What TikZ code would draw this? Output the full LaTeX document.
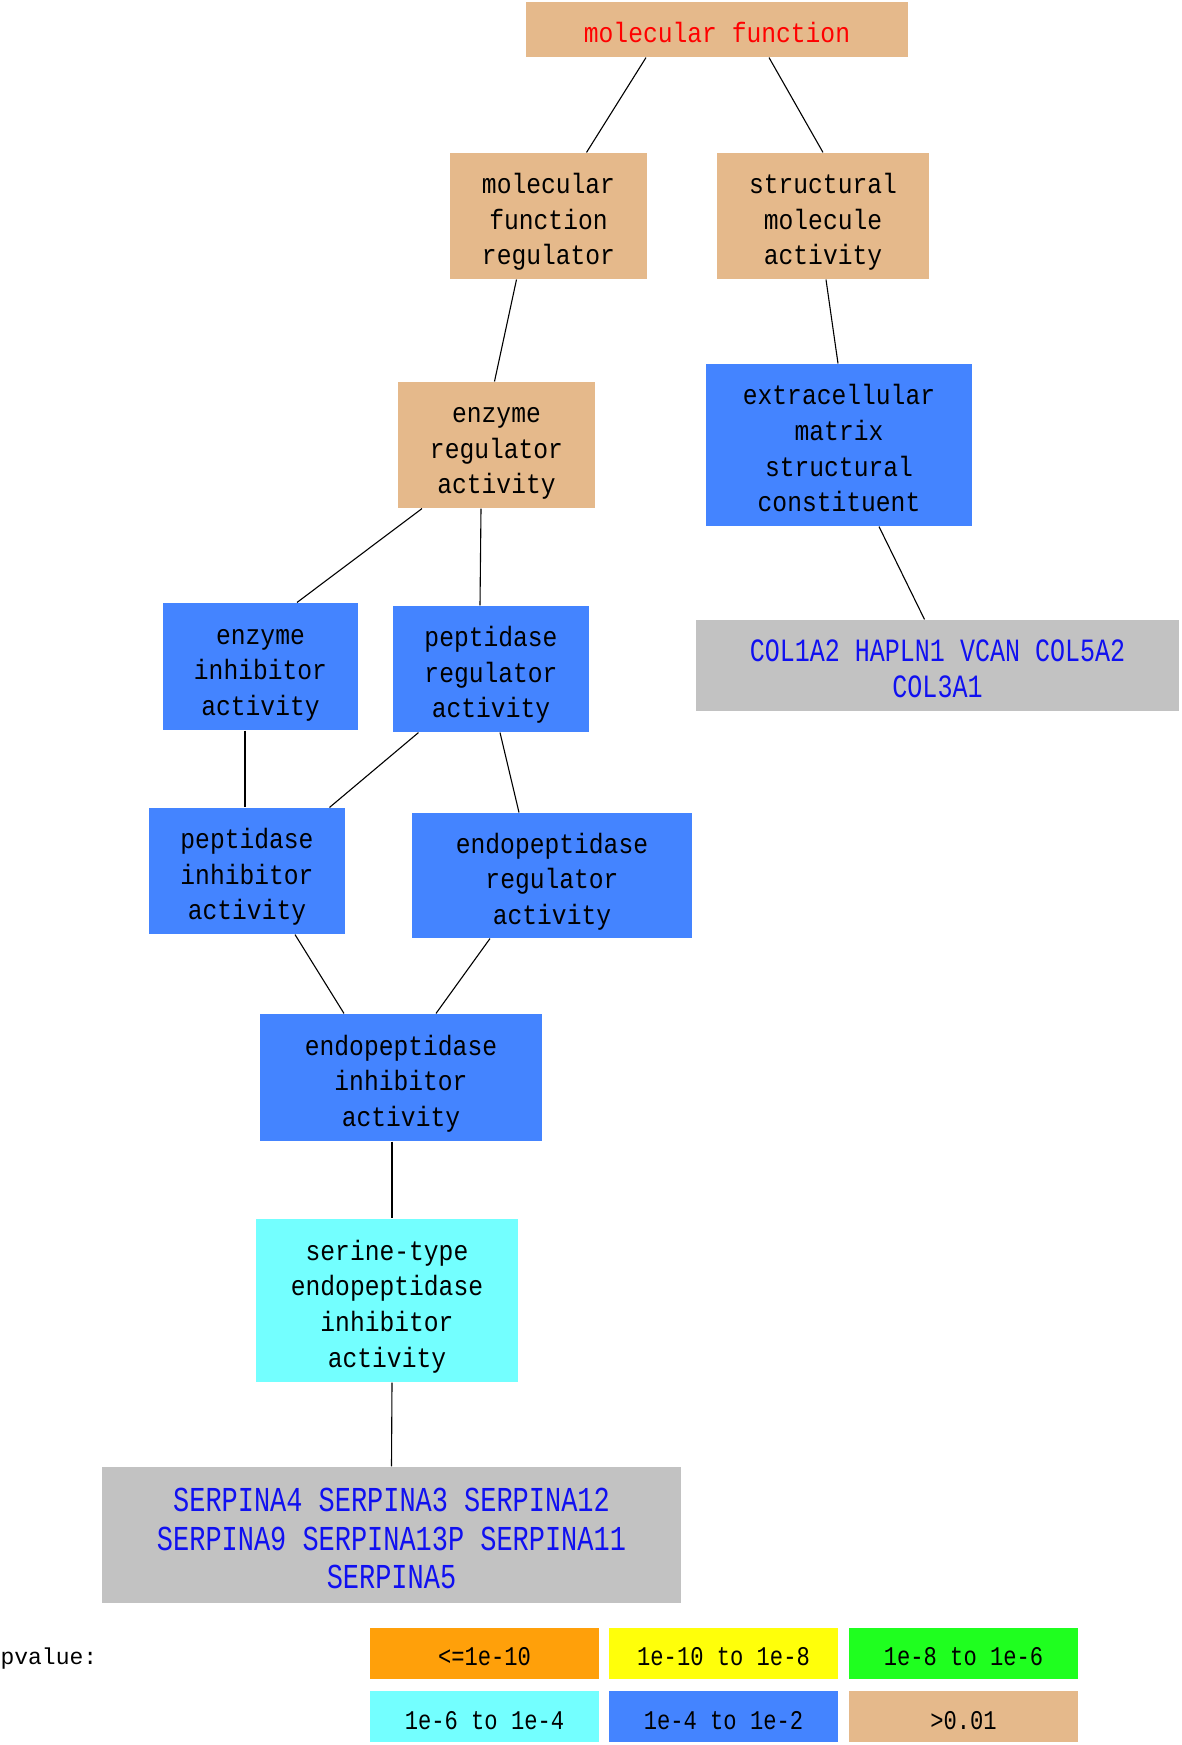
\documentclass[tikz,border=0pt]{standalone}
\usepackage{fontspec}
\newfontfamily\labfont[FakeStretch=0.88]{Liberation Mono}
\newfontfamily\genfont[FakeStretch=0.77]{Liberation Mono}
\newfontfamily\keyfont[FakeStretch=0.82]{Liberation Mono}
\newfontfamily\pvfont{Liberation Mono}
\usepackage{xcolor}
\definecolor{Tan}{HTML}{E5B98B}
\definecolor{Blu}{HTML}{4484FF}
\definecolor{Cyn}{HTML}{73FFFF}
\definecolor{Gry}{HTML}{C2C2C2}
\definecolor{GeneBlue}{HTML}{1010F0}
\definecolor{Org}{HTML}{FFA00A}
\definecolor{Yel}{HTML}{FFFF0A}
\definecolor{Grn}{HTML}{1FFF1F}
\usepackage{tikz}
\usetikzlibrary{positioning}

\begin{document}
\begin{tikzpicture}[x=1pt,y=-1pt,line width=1.1pt,
 box/.style={rectangle,inner sep=0pt,align=center,font=\labfont\fontsize{28}{35.6}\selectfont,
  text height=34pt,text depth=7.5pt},
 l3/.style={text height=105.2pt},
 l4/.style={text height=140.8pt},
 tan/.style={box,fill=Tan},
 blu/.style={box,fill=Blu},
 cyn/.style={box,fill=Cyn},
 gene/.style 2 args={rectangle,inner sep=0pt,align=center,fill=Gry,text=GeneBlue,
  font=\genfont\fontsize{#1}{#2}\selectfont,text depth=2pt},
 key/.style={rectangle,inner sep=0pt,minimum width=229,minimum height=51,font=\keyfont\fontsize{27}{30}\selectfont,
  text height=25pt,text depth=0pt}]
\useasboundingbox (0,0) rectangle (1181,1745);
% GO terms
\node[tan,minimum width=382,minimum height=55,text=red] (mf) at (717,29.5) {molecular function};
\node[tan,l3,minimum width=197,minimum height=126] (mfr) at (548.5,216) {molecular\\function\\regulator};
\node[tan,l3,minimum width=212,minimum height=126] (sma) at (823,216) {structural\\molecule\\activity};
\node[tan,l3,minimum width=197,minimum height=126] (era) at (496.5,445) {enzyme\\regulator\\activity};
\node[blu,l4,minimum width=266,minimum height=162] (ecm) at (839,445) {extracellular\\matrix\\structural\\constituent};
\node[blu,l3,minimum width=195,minimum height=127] (eia) at (260.5,666.5) {enzyme\\inhibitor\\activity};
\node[blu,l3,minimum width=196,minimum height=126] (pra) at (491,669) {peptidase\\regulator\\activity};
\node[blu,l3,minimum width=196,minimum height=126] (pia) at (247,871) {peptidase\\inhibitor\\activity};
\node[blu,l3,minimum width=280,minimum height=125] (epra) at (552,875.5) {endopeptidase\\regulator\\activity};
\node[blu,l3,minimum width=282,minimum height=127] (epia) at (401,1077.5) {endopeptidase\\inhibitor\\activity};
\node[cyn,l4,minimum width=262,minimum height=163] (sepia) at (387,1300.5) {serine-type\\endopeptidase\\inhibitor\\activity};
% genes
\node[gene={32.5}{35.6},text height=65.5pt,minimum width=483,minimum height=91] (colg) at (937.5,665.5) {COL1A2 HAPLN1 VCAN COL5A2\\COL3A1};
\node[gene={35}{38.4},text height=109pt,minimum width=579,minimum height=136] (serg) at (391.5,1535) {SERPINA4 SERPINA3 SERPINA12\\SERPINA9 SERPINA13P SERPINA11\\SERPINA5};
% edges
\draw ([xshift=-71]mf.south) -- ([xshift=38]mfr.north);
\draw ([xshift=52]mf.south) -- (sma.north);
\draw ([xshift=-32]mfr.south) -- ([xshift=-2]era.north);
\draw ([xshift=3]sma.south) -- ([xshift=-1]ecm.north);
\draw ([xshift=40]ecm.south) -- ([xshift=-13]colg.north);
\draw ([xshift=-74.5]era.south) -- ([xshift=36.5]eia.north);
\draw ([xshift=-15.5]era.south) -- ([xshift=-11]pra.north);
\draw ([xshift=-15.5]eia.south) -- ([xshift=-2]pia.north);
\draw ([xshift=-72.5]pra.south) -- ([xshift=82.5]pia.north);
\draw ([xshift=9]pra.south) -- ([xshift=-33]epra.north);
\draw ([xshift=48]pia.south) -- ([xshift=-57]epia.north);
\draw ([xshift=-62]epra.south) -- ([xshift=35]epia.north);
\draw ([xshift=-9]epia.south) -- ([xshift=5]sepia.north);
\draw ([xshift=5]sepia.south) -- (serg.north);
% legend
\node[anchor=west,inner sep=0pt,font=\pvfont\fontsize{23}{26}\selectfont] (pv) at (0,1659) {pvalue:};
\foreach \t/\c/\x/\y [count=\k] in {{<=1e-10}/Org/484.5/1653,{1e-10 to 1e-8}/Yel/723.5/1653,{1e-8 to 1e-6}/Grn/963.5/1653,
 {1e-6 to 1e-4}/Cyn/484.5/1716.5,{1e-4 to 1e-2}/Blu/723.5/1716.5,{>0.01}/Tan/963.5/1716.5}
 \node[key,fill=\c] (key\k) at (\x,\y) {\t};
\end{tikzpicture}
\end{document}
